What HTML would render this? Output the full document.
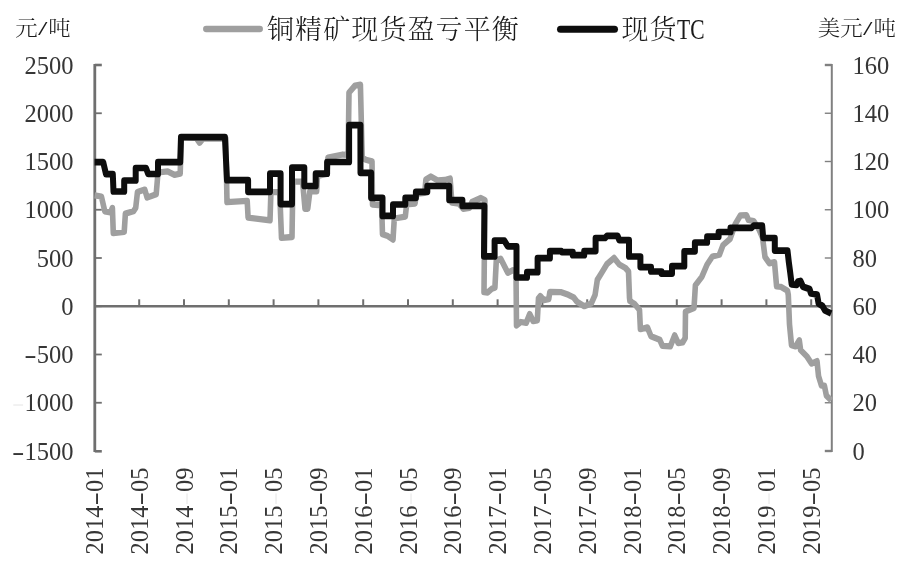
<!DOCTYPE html>
<html lang="zh-CN">
<head>
<meta charset="utf-8">
<title>铜精矿现货盈亏平衡 / 现货TC</title>
<style>
html,body{margin:0;padding:0;background:#fff;}
body{width:900px;height:569px;overflow:hidden;position:relative;}
svg{position:absolute;left:0;top:0;display:block;will-change:transform;}
text{font-family:"Liberation Serif","Noto Serif CJK SC","Noto Sans CJK SC",serif;fill:#1a1a1a;}
.num{font-size:24.5px;fill:#363636;}
.unit{font-size:21px;font-weight:300;}
.leg{font-size:27px;letter-spacing:1.1px;font-weight:300;}
.mono{font-family:"Liberation Mono",monospace;}
.faint{fill:#f1f1f1;}
</style>
</head>
<body>
<svg width="900" height="569" viewBox="0 0 900 569">
<rect x="0" y="0" width="900" height="569" fill="#ffffff"/>
<g stroke="#6f6f6f" fill="none">
<line x1="94.8" y1="64.0" x2="94.8" y2="452.0" stroke-width="2.8"/>
<line x1="94.8" y1="65.00" x2="101.8" y2="65.00" stroke-width="2.6"/>
<line x1="94.8" y1="113.25" x2="101.8" y2="113.25" stroke-width="1.8"/>
<line x1="94.8" y1="161.50" x2="101.8" y2="161.50" stroke-width="1.8"/>
<line x1="94.8" y1="209.75" x2="101.8" y2="209.75" stroke-width="1.8"/>
<line x1="94.8" y1="258.00" x2="101.8" y2="258.00" stroke-width="1.8"/>
<line x1="94.8" y1="306.25" x2="101.8" y2="306.25" stroke-width="1.8"/>
<line x1="94.8" y1="354.50" x2="101.8" y2="354.50" stroke-width="1.8"/>
<line x1="94.8" y1="402.75" x2="101.8" y2="402.75" stroke-width="1.8"/>
<line x1="94.8" y1="451.30" x2="101.8" y2="451.30" stroke-width="2.6"/>
<line x1="94.8" y1="306.3" x2="831.8" y2="306.3" stroke-width="2.4"/>
<line x1="139.2" y1="299.3" x2="139.2" y2="306.3" stroke-width="2"/>
<line x1="184.0" y1="299.3" x2="184.0" y2="306.3" stroke-width="2"/>
<line x1="228.8" y1="299.3" x2="228.8" y2="306.3" stroke-width="2"/>
<line x1="273.6" y1="299.3" x2="273.6" y2="306.3" stroke-width="2"/>
<line x1="318.4" y1="299.3" x2="318.4" y2="306.3" stroke-width="2"/>
<line x1="363.2" y1="299.3" x2="363.2" y2="306.3" stroke-width="2"/>
<line x1="408.0" y1="299.3" x2="408.0" y2="306.3" stroke-width="2"/>
<line x1="452.8" y1="299.3" x2="452.8" y2="306.3" stroke-width="2"/>
<line x1="497.6" y1="299.3" x2="497.6" y2="306.3" stroke-width="2"/>
<line x1="542.4" y1="299.3" x2="542.4" y2="306.3" stroke-width="2"/>
<line x1="587.2" y1="299.3" x2="587.2" y2="306.3" stroke-width="2"/>
<line x1="632.0" y1="299.3" x2="632.0" y2="306.3" stroke-width="2"/>
<line x1="676.8" y1="299.3" x2="676.8" y2="306.3" stroke-width="2"/>
<line x1="721.6" y1="299.3" x2="721.6" y2="306.3" stroke-width="2"/>
<line x1="766.4" y1="299.3" x2="766.4" y2="306.3" stroke-width="2"/>
<line x1="811.2" y1="299.3" x2="811.2" y2="306.3" stroke-width="2"/>
</g>
<g stroke="#808080" fill="none">
<line x1="831.8" y1="64.0" x2="831.8" y2="452.0" stroke-width="2"/>
<line x1="824.8" y1="65.00" x2="831.8" y2="65.00" stroke-width="2.4"/>
<line x1="824.8" y1="113.25" x2="831.8" y2="113.25" stroke-width="1.4"/>
<line x1="824.8" y1="161.50" x2="831.8" y2="161.50" stroke-width="1.4"/>
<line x1="824.8" y1="209.75" x2="831.8" y2="209.75" stroke-width="1.4"/>
<line x1="824.8" y1="258.00" x2="831.8" y2="258.00" stroke-width="1.4"/>
<line x1="824.8" y1="306.25" x2="831.8" y2="306.25" stroke-width="1.4"/>
<line x1="824.8" y1="354.50" x2="831.8" y2="354.50" stroke-width="1.4"/>
<line x1="824.8" y1="402.75" x2="831.8" y2="402.75" stroke-width="1.4"/>
<line x1="824.8" y1="451.00" x2="831.8" y2="451.00" stroke-width="2.4"/>
</g>
<g transform="scale(1,1.12)">
<polyline points="94.6,174.38 101.4,175.45 104.8,188.66 110.5,189.73 112.4,185.62 113.3,208.04 124.2,207.05 125.4,190.71 133.4,188.66 135.7,185.62 137.5,171.34 144.8,169.29 147.1,176.43 156.2,173.39 158.0,154.02 167.6,153.04 174.5,156.07 180.2,155.09 181.3,122.41 196.2,123.04 199.6,127.50 203.0,123.84 225.8,123.84 227.0,180.54 247.2,179.38 248.1,194.29 270.0,196.70 270.9,171.61 279.7,171.61 281.5,212.32 292.0,211.61 292.9,162.14 302.6,162.14 305.0,186.43 307.7,186.43 309.9,170.80 316.6,170.80 317.5,157.14 327.0,155.36 328.0,140.62 342.8,137.95 348.1,138.39 349.0,82.68 355.1,76.34 360.4,75.62 362.2,140.71 365.8,142.59 372.0,144.11 372.5,182.59 381.6,183.30 382.5,209.20 387.8,210.80 393.0,213.93 394.3,195.09 405.3,193.48 406.6,182.59 415.0,181.79 416.4,173.12 424.7,172.32 425.9,160.27 430.8,157.59 437.8,161.16 444.9,160.71 450.1,159.37 451.9,180.98 458.9,181.79 463.3,186.43 469.4,185.71 472.0,180.36 480.9,176.79 484.9,178.57 484.0,260.89 487.6,261.16 492.0,257.68 494.9,256.96 496.3,232.59 500.7,231.07 507.8,243.57 513.0,241.25 516.0,242.86 516.5,290.62 520.9,287.50 526.2,288.30 529.7,280.45 533.2,286.70 537.3,285.98 538.5,266.34 540.3,264.29 543.8,267.95 548.7,267.14 549.9,260.54 561.3,260.89 568.4,263.21 573.6,265.54 577.1,269.46 584.2,273.39 591.2,271.07 595.1,263.21 597.3,249.91 601.7,243.57 607.0,235.71 614.0,230.27 619.3,236.16 625.5,239.29 628.5,242.41 629.5,265.89 629.9,268.84 634.3,271.16 639.5,276.70 640.4,293.93 647.4,292.32 651.0,300.18 659.7,303.30 662.4,308.84 670.3,309.29 674.7,299.38 678.2,306.43 682.6,305.71 685.2,301.79 685.5,278.21 694.0,275.09 695.4,254.73 701.9,247.05 707.1,236.16 712.4,229.02 719.4,227.50 723.0,218.84 730.0,213.39 735.3,200.00 740.5,192.23 746.4,192.14 748.5,196.43 753.7,197.41 759.0,204.91 762.6,212.50 765.0,229.46 769.4,235.09 774.5,234.11 776.6,255.80 781.2,256.16 787.5,259.55 788.3,263.39 789.5,289.55 791.5,308.21 795.6,309.29 799.3,303.75 800.6,312.50 806.7,318.04 811.6,324.64 817.0,322.41 818.5,335.62 821.5,344.37 824.4,344.37 826.4,353.21 831.3,357.59" fill="none" stroke="#9f9f9f" stroke-width="5.6" stroke-linejoin="round" stroke-linecap="butt"/>
<polyline points="94.6,144.82 103.2,144.82 106.0,155.45 112.8,155.45 113.5,170.98 124.2,170.98 124.2,161.16 135.7,161.16 135.7,150.00 146.0,150.00 148.2,155.36 158.0,155.36 158.0,144.82 180.2,144.82 181.0,122.41 224.9,122.41 227.0,160.89 248.1,160.89 248.1,171.25 270.0,171.25 270.0,155.09 280.6,155.09 280.6,182.23 292.0,182.23 292.0,149.64 304.3,149.64 304.3,166.07 315.7,166.07 315.7,155.09 327.1,155.09 327.1,144.64 349.1,144.64 349.1,111.70 360.4,111.70 360.5,154.29 371.1,154.29 371.1,176.61 382.5,176.61 382.5,192.77 393.0,192.77 393.0,182.59 405.3,182.59 405.3,176.61 415.9,176.61 415.9,171.25 427.3,171.25 427.3,166.07 449.2,166.07 449.2,178.57 462.4,178.57 462.4,183.84 484.4,183.84 484.0,228.93 494.6,228.93 494.6,214.82 504.3,214.82 507.8,220.00 516.5,220.00 516.5,247.77 527.0,247.77 527.0,243.04 537.6,243.04 537.6,230.54 549.9,230.54 549.9,224.20 561.3,224.20 562.0,225.18 572.8,225.18 572.8,227.86 584.2,227.86 584.2,224.20 595.6,224.20 595.6,212.50 605.0,212.50 607.0,210.62 617.6,210.62 619.3,214.46 629.0,214.46 629.0,229.02 640.4,229.02 640.4,238.48 651.0,238.48 651.0,242.41 661.5,242.41 661.5,244.29 672.0,244.29 672.0,237.68 684.3,237.68 684.3,224.38 694.9,224.38 694.9,216.52 707.1,216.52 707.1,211.34 718.6,211.34 718.6,207.14 730.5,207.14 730.5,203.39 751.6,203.39 753.7,201.52 762.2,201.52 763.2,212.50 774.8,212.50 774.8,223.75 787.5,223.75 788.8,233.93 790.2,243.30 791.7,254.02 796.5,254.46 798.0,251.34 800.5,250.89 803.0,256.07 809.5,258.04 811.0,262.05 817.0,262.95 818.6,270.98 822.5,273.21 825.0,277.23 831.2,279.91" fill="none" stroke="#0d0d0d" stroke-width="6.0" stroke-linejoin="round" stroke-linecap="butt"/>
</g>
<line x1="206.2" y1="29.0" x2="259.8" y2="29.0" stroke="#9f9f9f" stroke-width="6.3" stroke-linecap="round"/>
<text class="leg" x="267" y="38.5">铜精矿现货盈亏平衡</text>
<line x1="560.5" y1="29.3" x2="614.5" y2="29.3" stroke="#0d0d0d" stroke-width="7" stroke-linecap="round"/>
<text class="leg" x="621.5" y="38.5">现货<tspan x="677" font-size="29.5" letter-spacing="0" font-weight="400" textLength="27.5" lengthAdjust="spacingAndGlyphs">TC</tspan></text>
<text class="unit" transform="translate(15.2,35.3) scale(1.07,1)">元<tspan class="mono" font-size="18" dx="-0.6" dy="-0.5">/</tspan><tspan dx="-0.2" dy="0.5">吨</tspan></text>
<text class="unit" transform="translate(817.8,35.3) scale(1.07,1)">美元<tspan class="mono" font-size="18" dx="-0.6" dy="-0.5">/</tspan><tspan dx="-0.2" dy="0.5">吨</tspan></text>
<text class="num" x="73.5" y="73.6" text-anchor="end">2500</text>
<text class="num" x="73.5" y="121.8" text-anchor="end">2000</text>
<text class="num" x="73.5" y="170.1" text-anchor="end">1500</text>
<text class="num" x="73.5" y="218.3" text-anchor="end">1000</text>
<text class="num" x="73.5" y="266.6" text-anchor="end">500</text>
<text class="num" x="73.5" y="314.9" text-anchor="end">0</text>
<text class="num" x="73.5" y="363.1" text-anchor="end"><tspan textLength="12.4" lengthAdjust="spacingAndGlyphs">-</tspan>500</text>
<text class="num" x="73.5" y="411.4" text-anchor="end"><tspan class="faint" textLength="12.4" lengthAdjust="spacingAndGlyphs">-</tspan>1000</text>
<text class="num" x="73.5" y="459.6" text-anchor="end"><tspan textLength="12.4" lengthAdjust="spacingAndGlyphs">-</tspan>1500</text>
<text class="num" x="852.5" y="73.6">160</text>
<text class="num" x="852.5" y="121.8">140</text>
<text class="num" x="852.5" y="170.1">120</text>
<text class="num" x="852.5" y="218.3">100</text>
<text class="num" x="852.5" y="266.6">80</text>
<text class="num" x="852.5" y="314.9">60</text>
<text class="num" x="852.5" y="363.1">40</text>
<text class="num" x="852.5" y="411.4">20</text>
<text class="num" x="852.5" y="459.6">0</text>
<text class="num" transform="translate(103.0,554.5) rotate(-90)">2014<tspan textLength="13.4" lengthAdjust="spacingAndGlyphs">-</tspan>01</text>
<text class="num" transform="translate(147.8,554.5) rotate(-90)">2014<tspan textLength="13.4" lengthAdjust="spacingAndGlyphs">-</tspan>05</text>
<text class="num" transform="translate(192.6,554.5) rotate(-90)">2014<tspan class="faint" textLength="13.4" lengthAdjust="spacingAndGlyphs">-</tspan>09</text>
<text class="num" transform="translate(237.4,554.5) rotate(-90)">2015<tspan textLength="13.4" lengthAdjust="spacingAndGlyphs">-</tspan>01</text>
<text class="num" transform="translate(282.2,554.5) rotate(-90)">2015<tspan class="faint" textLength="13.4" lengthAdjust="spacingAndGlyphs">-</tspan>05</text>
<text class="num" transform="translate(327.0,554.5) rotate(-90)">2015<tspan textLength="13.4" lengthAdjust="spacingAndGlyphs">-</tspan>09</text>
<text class="num" transform="translate(371.8,554.5) rotate(-90)">2016<tspan textLength="13.4" lengthAdjust="spacingAndGlyphs">-</tspan>01</text>
<text class="num" transform="translate(416.6,554.5) rotate(-90)">2016<tspan class="faint" textLength="13.4" lengthAdjust="spacingAndGlyphs">-</tspan>05</text>
<text class="num" transform="translate(461.4,554.5) rotate(-90)">2016<tspan textLength="13.4" lengthAdjust="spacingAndGlyphs">-</tspan>09</text>
<text class="num" transform="translate(506.2,554.5) rotate(-90)">2017<tspan textLength="13.4" lengthAdjust="spacingAndGlyphs">-</tspan>01</text>
<text class="num" transform="translate(551.0,554.5) rotate(-90)">2017<tspan textLength="13.4" lengthAdjust="spacingAndGlyphs">-</tspan>05</text>
<text class="num" transform="translate(595.8,554.5) rotate(-90)">2017<tspan textLength="13.4" lengthAdjust="spacingAndGlyphs">-</tspan>09</text>
<text class="num" transform="translate(640.6,554.5) rotate(-90)">2018<tspan textLength="13.4" lengthAdjust="spacingAndGlyphs">-</tspan>01</text>
<text class="num" transform="translate(685.4,554.5) rotate(-90)">2018<tspan textLength="13.4" lengthAdjust="spacingAndGlyphs">-</tspan>05</text>
<text class="num" transform="translate(730.2,554.5) rotate(-90)">2018<tspan textLength="13.4" lengthAdjust="spacingAndGlyphs">-</tspan>09</text>
<text class="num" transform="translate(775.0,554.5) rotate(-90)">2019<tspan class="faint" textLength="13.4" lengthAdjust="spacingAndGlyphs">-</tspan>01</text>
<text class="num" transform="translate(819.8,554.5) rotate(-90)">2019<tspan textLength="13.4" lengthAdjust="spacingAndGlyphs">-</tspan>05</text>
</svg>
</body>
</html>
